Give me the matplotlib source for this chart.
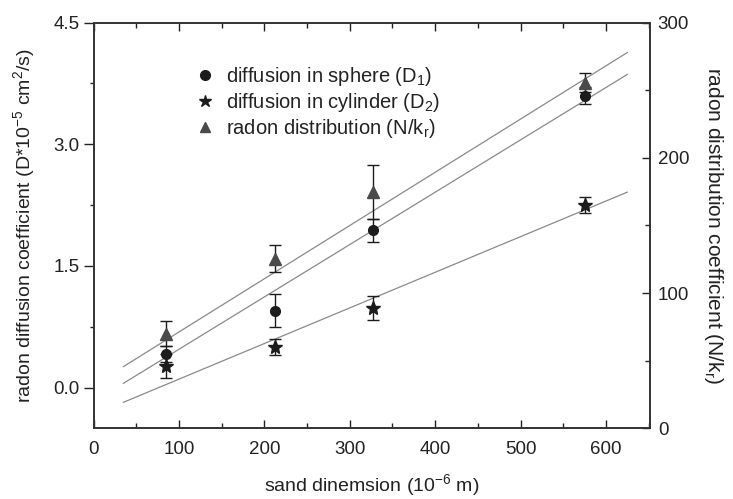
import matplotlib
matplotlib.use("Agg")
import matplotlib.pyplot as plt
from matplotlib.lines import Line2D
from matplotlib.ticker import MultipleLocator, FormatStrFormatter

plt.rcParams['font.family'] = ['Liberation Sans', 'DejaVu Sans']
plt.rcParams['mathtext.fontset'] = 'custom'
plt.rcParams['mathtext.rm'] = 'Liberation Sans'
plt.rcParams['mathtext.it'] = 'Liberation Sans:italic'
plt.rcParams['mathtext.bf'] = 'Liberation Sans:bold'

# ---- data ----
sand_size = [85, 213, 327, 575]                 # 10^-6 m
d_sphere = [0.42, 0.95, 1.94, 3.60]             # D1, left axis
d_sphere_err = [0.10, 0.20, 0.14, 0.10]
d_cylinder = [0.27, 0.50, 0.98, 2.25]           # D2, left axis
d_cylinder_err = [0.15, 0.10, 0.15, 0.10]
n_kr = [70, 125.5, 175, 255.5]                  # N/k_r, right axis
n_kr_err = [9, 10, 20, 7]

fit_x = [35, 625]
fit_sphere = [0.054, 3.86]
fit_cylinder = [-0.18, 2.41]
fit_nkr = [45.6, 277.8]

labels = ['diffusion in sphere (D$_1$)',
          'diffusion in cylinder (D$_2$)',
          'radon distribution (N/k$_\\mathrm{r}$)']

text_c = '#222222'
line_c = '#8a8a8a'
mk_c = '#1c1c1c'
tri_c = '#4a4a4a'

fig = plt.figure(figsize=(7.33, 4.99), dpi=100)
ax = fig.add_axes([93.5/733, 1-428.3/499, (649.5-93.5)/733, (428.3-22.5)/499])
ax2 = ax.twinx()

# fit lines
ax.plot(fit_x, fit_sphere, color=line_c, lw=0.9)
ax.plot(fit_x, fit_cylinder, color=line_c, lw=0.9)
ax2.plot(fit_x, fit_nkr, color=line_c, lw=0.9)

ekw = dict(ls='none', ecolor=mk_c, elinewidth=1.0, capsize=4.5, capthick=1.0)
ax.errorbar(sand_size, d_sphere, yerr=d_sphere_err, marker='o', ms=7,
            mfc=mk_c, mec=mk_c, **ekw)
ax.errorbar(sand_size, d_cylinder, yerr=d_cylinder_err, marker='*', ms=10,
            mfc=mk_c, mec=mk_c, **ekw)
ax2.errorbar(sand_size, n_kr, yerr=n_kr_err, marker='^', ms=8,
             mfc=tri_c, mec=tri_c, **ekw)

ax.set_xlim(0, 651)
ax.set_ylim(-0.5, 4.5)
ax2.set_ylim(0, 300)

ax.xaxis.set_major_locator(MultipleLocator(100))
ax.xaxis.set_minor_locator(MultipleLocator(50))
ax.yaxis.set_major_locator(MultipleLocator(1.5))
ax.yaxis.set_minor_locator(MultipleLocator(0.75))
ax2.yaxis.set_major_locator(MultipleLocator(100))
ax2.yaxis.set_minor_locator(MultipleLocator(50))
ax.yaxis.set_major_formatter(FormatStrFormatter('%.1f'))

fs_tick = 13.5
fs_lab = 14
fs_leg = 14.5
ax.tick_params(axis='x', which='both', direction='in', top=True, labelsize=fs_tick,
               colors=text_c, pad=9)
ax.tick_params(axis='x', which='major', length=6, width=1)
ax.tick_params(axis='x', which='minor', length=3.5, width=1)
ax.tick_params(axis='y', which='both', direction='out', labelsize=fs_tick,
               colors=text_c, pad=3)
ax.tick_params(axis='y', which='major', length=7, width=1)
ax.tick_params(axis='y', which='minor', length=3, width=1)
ax2.tick_params(axis='y', which='both', direction='in', labelsize=fs_tick,
                colors=text_c, pad=6)
ax2.tick_params(axis='y', which='major', length=6, width=1)
ax2.tick_params(axis='y', which='minor', length=3.5, width=1)

for a in (ax, ax2):
    for s in a.spines.values():
        s.set_color('#333333')
        s.set_linewidth(1.2)

ax.set_xlabel('sand dinemsion (10$^{-6}$ m)', fontsize=fs_lab, color=text_c,
              labelpad=10)
ax.set_ylabel('radon diffusion coefficient (D*10$^{-5}$ cm$^2$/s)', fontsize=fs_lab,
              color=text_c, labelpad=12)
ax2.set_ylabel('radon distribution coefficient (N/k$_\\mathrm{r}$)', fontsize=15,
               color=text_c, rotation=270, labelpad=26)

handles = [Line2D([], [], ls='none', marker='o', ms=7, mfc=mk_c, mec=mk_c),
           Line2D([], [], ls='none', marker='*', ms=9, mfc=mk_c, mec=mk_c),
           Line2D([], [], ls='none', marker='^', ms=7, mfc=tri_c, mec=tri_c)]
leg = ax.legend(handles, labels, loc='upper left', bbox_to_anchor=(0.15, 0.94),
                frameon=False, fontsize=fs_leg, handlelength=1.0, handletextpad=0.55,
                labelspacing=0.15, labelcolor=text_c)

fig.savefig('out.png', dpi=100)
